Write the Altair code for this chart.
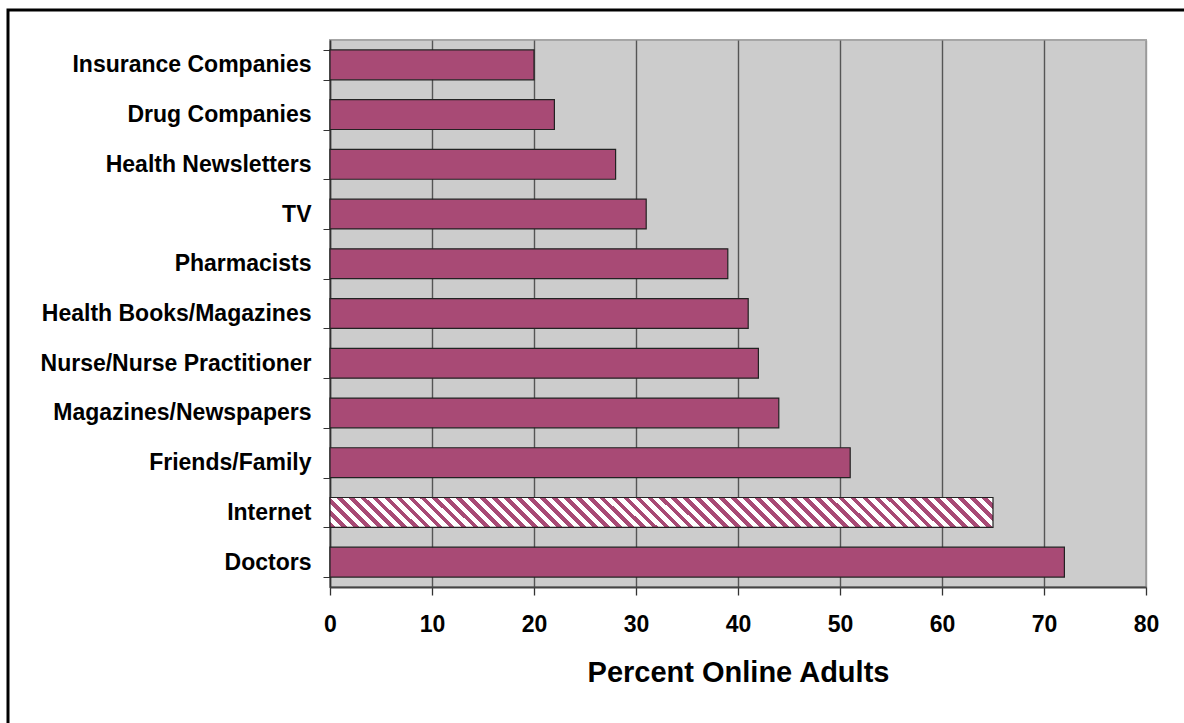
import altair as alt
import pandas as pd

# Sources of health information, top to bottom
sources = [
    "Insurance Companies",
    "Drug Companies",
    "Health Newsletters",
    "TV",
    "Pharmacists",
    "Health Books/Magazines",
    "Nurse/Nurse Practitioner",
    "Magazines/Newspapers",
    "Friends/Family",
    "Internet",
    "Doctors",
]
percent = [20, 22, 28, 31, 39, 41, 42, 44, 51, 65, 72]
x_ticks = [0, 10, 20, 30, 40, 50, 60, 70, 80]

df = pd.DataFrame({"source": sources, "percent": percent})

PLUM = "#A84A75"
FONT = "Liberation Sans"

# Diagonal hatch for the highlighted bar, built as a hard-stop linear gradient.
# Bar box is roughly 663 x 30 px; the vector is set so stripes run at 45 degrees.
bw, bh = 663.0, 30.0
a = bh / bw
k = (1 + a) / (1 + a * a)
periods = round((bw + bh) / 12.0)
stops = []
for i in range(periods):
    s = i / periods
    m = (i + 0.48) / periods
    e = (i + 1) / periods
    stops += [
        {"offset": s, "color": PLUM},
        {"offset": m, "color": PLUM},
        {"offset": m, "color": "#FFFFFF"},
        {"offset": e, "color": "#FFFFFF"},
    ]
hatch = {
    "gradient": "linear",
    "x1": 0, "y1": 1, "x2": k, "y2": 1 - k * a,
    "stops": stops,
}

y_enc = alt.Y(
    "source:N",
    scale=alt.Scale(domain=sources, paddingInner=0.4, paddingOuter=0.2),
    axis=alt.Axis(
        title=None,
        tickBand="extent",
        tickSize=7,
        tickColor="#333333",
        domainColor="#333333",
        domainWidth=1.5,
        labelFont=FONT,
        labelFontWeight="bold",
        labelFontSize=23,
        labelColor="#000000",
        labelPadding=12,
        labelLimit=400,
        grid=False,
    ),
)
x_enc = alt.X(
    "percent:Q",
    scale=alt.Scale(domain=[0, 80], nice=False),
    axis=alt.Axis(
        values=x_ticks,
        title="Percent Online Adults",
        titleFont=FONT,
        titleFontWeight="bold",
        titleFontSize=29,
        titleColor="#000000",
        titleBaseline="alphabetic",
        titleY=94,
        labelFont=FONT,
        labelFontWeight="bold",
        labelFontSize=23,
        labelColor="#000000",
        labelPadding=18,
        labelFlush=False,
        tickSize=8,
        tickColor="#333333",
        tickWidth=1.3,
        domainColor="#444444",
        domainWidth=2,
        grid=True,
        gridColor={"condition": {"test": "datum.value == 80", "value": "#9A9A9A"}, "value": "#555555"},
        gridWidth=1.4,
        gridOpacity=1,
    ),
)

plain = (
    alt.Chart(df)
    .transform_filter(alt.datum.source != "Internet")
    .mark_bar(fill=PLUM, stroke="#222222", strokeWidth=1.2)
    .encode(x=x_enc, y=y_enc)
)
hatched = (
    alt.Chart(df)
    .transform_filter(alt.datum.source == "Internet")
    .mark_bar(fill=hatch, stroke="#222222", strokeWidth=1.2)
    .encode(x=x_enc, y=y_enc)
)

# Outer border around the whole chart
frame = (
    alt.Chart(pd.DataFrame({"k": [0]}))
    .mark_rect(filled=False, stroke="#000000", strokeWidth=3)
    .encode(
        x=alt.value(-322), x2=alt.value(870),
        y=alt.value(-30), y2=alt.value(700),
    )
)

chart = (
    alt.layer(plain, hatched, frame)
    .properties(
        width=816,
        height=547,
        autosize=alt.AutoSizeParams(type="none"),
        padding={"left": 330, "top": 40, "right": 38, "bottom": 136},
        background="#FFFFFF",
    )
    .configure_view(fill="#CCCCCC", stroke="#A6A6A6", strokeWidth=2)
)

chart.save("out.html", embed_options={"renderer": "svg", "actions": False})
